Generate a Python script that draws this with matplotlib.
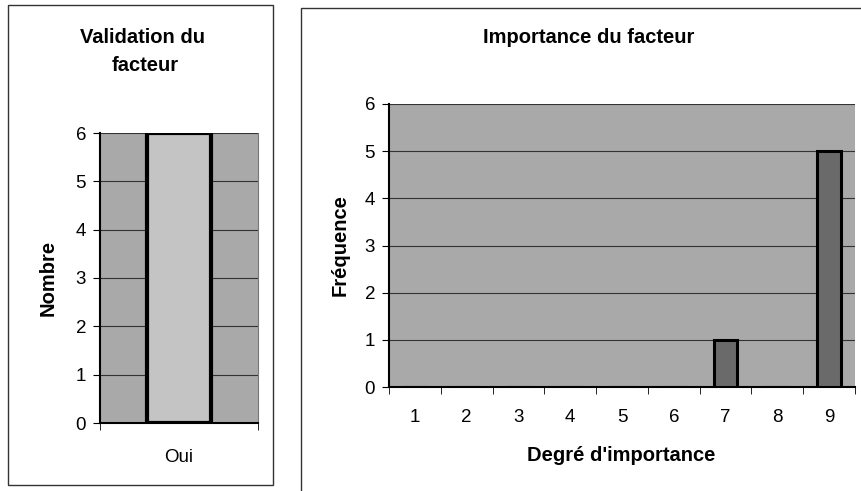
import matplotlib
matplotlib.use("Agg")
import matplotlib.pyplot as plt
import numpy as np
from matplotlib.patches import Rectangle

# data
valid_cats = ["Oui"]
valid_counts = [6]
degres = [1, 2, 3, 4, 5, 6, 7, 8, 9]
freq = [0, 0, 0, 0, 0, 0, 1, 0, 5]

plt.rcParams['font.family'] = ['Liberation Sans', 'DejaVu Sans']

W, H = 862, 491
fig = plt.figure(figsize=(W / 100, H / 100), dpi=100)
fig.patch.set_facecolor("white")

def fx(px):
    return px / W

def fy(py):
    return 1 - py / H

# panel frames
fig.patches.append(Rectangle((fx(8), fy(485)), fx(265), 480 / H, transform=fig.transFigure,
                             fill=False, edgecolor="#333333", linewidth=1.0))
fig.patches.append(Rectangle((fx(301), -0.01), fx(570), 1 - 8 / H + 0.01, transform=fig.transFigure,
                             fill=False, edgecolor="#333333", linewidth=1.0))

bg = "#a9a9a9"
tsize = 13.5
lsize = 14.5

# left chart
ax1 = fig.add_axes([fx(100), fy(423), fx(158), 290 / H])
ax1.set_facecolor(bg)
ax1.set_axisbelow(True)
ax1.yaxis.grid(True, color="#333333", linewidth=0.8)
ax1.bar(np.arange(len(valid_cats)), valid_counts, width=0.41, color="#c4c4c4",
        edgecolor="black", linewidth=3, zorder=3)
ax1.set_xlim(-0.5, 0.5)
ax1.set_ylim(0, 6)
ax1.set_yticks(range(0, 7))
ax1.set_xticks([0])
ax1.set_xticklabels(valid_cats)
ax1.set_xticks([-0.5, 0.5], minor=True)
ax1.tick_params(axis="x", which="major", length=0, pad=19, labelsize=tsize)
ax1.tick_params(axis="x", which="minor", length=5, direction="out")
ax1.tick_params(axis="y", length=5, direction="out", pad=5, labelsize=tsize)
ax1.spines["top"].set_visible(False)
ax1.spines["right"].set_color("#777777")
ax1.spines["left"].set_linewidth(1.5)
ax1.spines["bottom"].set_linewidth(1.5)
fig.text(fx(48), fy(278), "Nombre", rotation=90, ha="center", va="center",
         fontsize=lsize, fontweight="bold")
fig.text(fx(143), fy(43), "Validation du", ha="center", va="baseline",
         fontsize=lsize, fontweight="bold")
fig.text(fx(145), fy(71), "facteur", ha="center", va="baseline",
         fontsize=lsize, fontweight="bold")

# right chart
ax2 = fig.add_axes([fx(389), fy(387), fx(466), 283 / H])
ax2.set_facecolor(bg)
ax2.set_axisbelow(True)
ax2.yaxis.grid(True, color="#333333", linewidth=0.8)
ax2.bar(degres, freq, width=0.46, color="#6a6a6a", edgecolor="black", linewidth=2.2, zorder=3)
ax2.set_xlim(0.5, 9.5)
ax2.set_ylim(0, 6)
ax2.set_yticks(range(0, 7))
ax2.set_xticks(degres)
ax2.set_xticks(np.arange(0.5, 10, 1), minor=True)
ax2.tick_params(axis="x", which="major", length=0, pad=16, labelsize=tsize)
ax2.tick_params(axis="x", which="minor", length=5, direction="out")
ax2.tick_params(axis="y", length=5, direction="out", pad=5, labelsize=tsize)
ax2.spines["top"].set_visible(False)
ax2.spines["right"].set_visible(False)
ax2.spines["left"].set_linewidth(1.5)
ax2.spines["bottom"].set_linewidth(1.5)
fig.text(fx(340), fy(245), "Fréquence", rotation=90, ha="center", va="center",
         fontsize=lsize, fontweight="bold")
fig.text(fx(621), fy(461), "Degré d'importance", ha="center", va="baseline",
         fontsize=lsize, fontweight="bold")
fig.text(fx(589), fy(43), "Importance du facteur", ha="center", va="baseline",
         fontsize=lsize, fontweight="bold")

fig.savefig("out.png", dpi=100)
